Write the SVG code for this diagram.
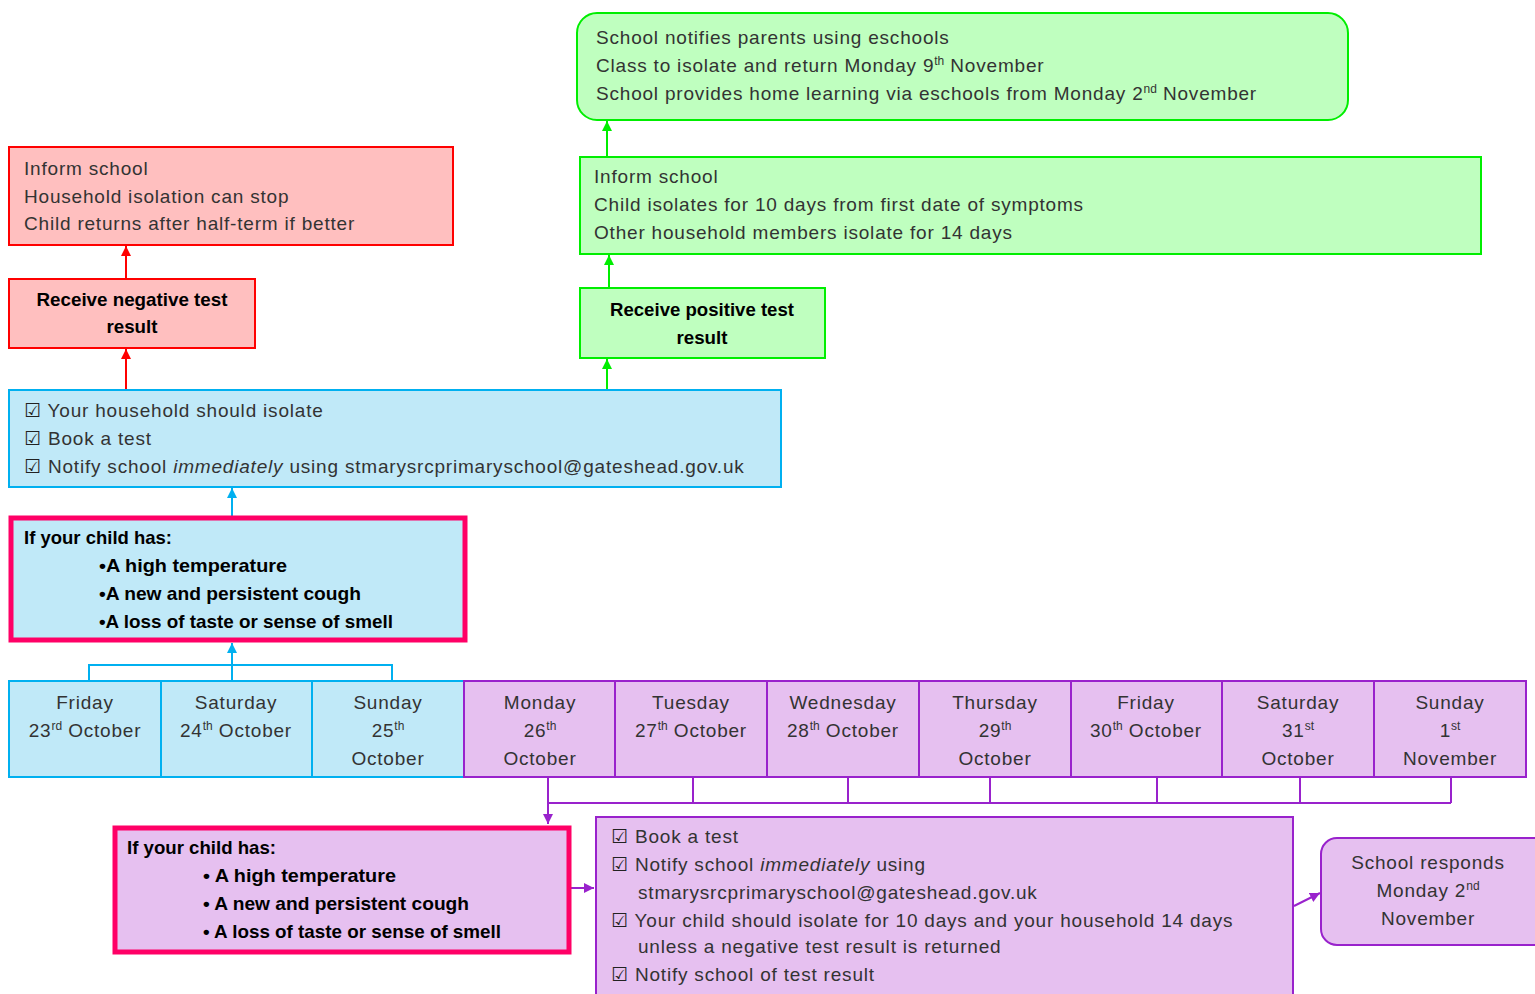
<svg xmlns="http://www.w3.org/2000/svg" width="1535" height="994" viewBox="0 0 1535 994">
<defs>
<style>
text{font-family:"Liberation Sans",Arial,sans-serif;font-size:19px;fill:#333;letter-spacing:0.8px}
.b{font-weight:bold;fill:#000;font-size:19px;letter-spacing:0}
.c{text-anchor:middle}
.sup{font-size:12px;letter-spacing:0}
.ck{font-family:"DejaVu Sans",sans-serif;font-size:19px;fill:#222}
.red{fill:#ffbfbf;stroke:#ff0000;stroke-width:2}
.grn{fill:#bfffbf;stroke:#00ee00;stroke-width:2}
.blu{fill:#c0e9f8;stroke:#00b0f0;stroke-width:2}
.pur{fill:#e6c0f0;stroke:#9922cc;stroke-width:2}
.sym{stroke:#ff0066;stroke-width:5}
.ln{fill:none;stroke-width:2}
</style>
<marker id="ar" viewBox="0 0 10 10" refX="10" refY="5" markerWidth="11" markerHeight="10" orient="auto" markerUnits="userSpaceOnUse"><path d="M0,0L10,5L0,10z" fill="#ff0000"/></marker>
<marker id="ag" viewBox="0 0 10 10" refX="10" refY="5" markerWidth="11" markerHeight="10" orient="auto" markerUnits="userSpaceOnUse"><path d="M0,0L10,5L0,10z" fill="#00ee00"/></marker>
<marker id="ab" viewBox="0 0 10 10" refX="10" refY="5" markerWidth="11" markerHeight="10" orient="auto" markerUnits="userSpaceOnUse"><path d="M0,0L10,5L0,10z" fill="#00b0f0"/></marker>
<marker id="ap" viewBox="0 0 10 10" refX="10" refY="5" markerWidth="11" markerHeight="10" orient="auto" markerUnits="userSpaceOnUse"><path d="M0,0L10,5L0,10z" fill="#9922cc"/></marker>
</defs>
<rect width="1535" height="994" fill="#fff"/>

<g id="connectors">
<path class="ln" stroke="#ff0000" d="M126,390V349" marker-end="url(#ar)"/>
<path class="ln" stroke="#ff0000" d="M126,279V246" marker-end="url(#ar)"/>
<path class="ln" stroke="#00ee00" d="M607,390V359" marker-end="url(#ag)"/>
<path class="ln" stroke="#00ee00" d="M609,288V255" marker-end="url(#ag)"/>
<path class="ln" stroke="#00ee00" d="M607,157V121" marker-end="url(#ag)"/>
<path class="ln" stroke="#00b0f0" d="M232,516V488" marker-end="url(#ab)"/>
<path class="ln" stroke="#00b0f0" d="M89,681V665H392V681"/>
<path class="ln" stroke="#00b0f0" d="M232,681V643" marker-end="url(#ab)"/>
<path class="ln" stroke="#9922cc" d="M548,777V824" marker-end="url(#ap)"/>
<path class="ln" stroke="#9922cc" d="M548,803H1451M693,777V803M848,777V803M990,777V803M1157,777V803M1300,777V803M1451,777V803"/>
<path class="ln" stroke="#9922cc" d="M571,888H594" marker-end="url(#ap)"/>
<path class="ln" stroke="#9922cc" d="M1294,906L1320,893" marker-end="url(#ap)"/>
</g>

<g id="school-notifies">
<rect class="grn" x="577" y="13" width="771" height="107" rx="20"/>
<text x="596" y="44">School notifies parents using eschools</text>
<text x="596" y="72">Class to isolate and return Monday 9<tspan class="sup" dy="-7">th</tspan><tspan dy="7"> November</tspan></text>
<text x="596" y="100">School provides home learning via eschools from Monday 2<tspan class="sup" dy="-7">nd</tspan><tspan dy="7"> November</tspan></text>
</g>

<g id="positive-actions">
<rect class="grn" x="580" y="157" width="901" height="97"/>
<text x="594" y="183">Inform school</text>
<text x="594" y="211">Child isolates for 10 days from first date of symptoms</text>
<text x="594" y="239">Other household members isolate for 14 days</text>
</g>

<g id="positive-result">
<rect class="grn" x="580" y="288" width="245" height="70"/>
<text class="b c" x="702" y="316" textLength="184" lengthAdjust="spacingAndGlyphs">Receive positive test</text>
<text class="b c" x="702" y="344" textLength="51" lengthAdjust="spacingAndGlyphs">result</text>
</g>

<g id="negative-actions">
<rect class="red" x="9" y="147" width="444" height="98"/>
<text x="24" y="175">Inform school</text>
<text x="24" y="203">Household isolation can stop</text>
<text x="24" y="230">Child returns after half-term if better</text>
</g>

<g id="negative-result">
<rect class="red" x="9" y="279" width="246" height="69"/>
<text class="b c" x="132" y="306" textLength="191" lengthAdjust="spacingAndGlyphs">Receive negative test</text>
<text class="b c" x="132" y="333" textLength="51" lengthAdjust="spacingAndGlyphs">result</text>
</g>

<g id="weekend-actions">
<rect class="blu" x="9" y="390" width="772" height="97"/>
<text x="24" y="417"><tspan class="ck">☑</tspan> Your household should isolate</text>
<text x="24" y="445"><tspan class="ck">☑</tspan> Book a test</text>
<text x="24" y="473"><tspan class="ck">☑</tspan> Notify school <tspan font-style="italic">immediately</tspan> using stmarysrcprimaryschool@gateshead.gov.uk</text>
</g>

<g id="weekend-symptoms">
<rect class="blu sym" x="11" y="518" width="454" height="122"/>
<text class="b" x="24" y="544" textLength="148" lengthAdjust="spacingAndGlyphs">If your child has:</text>
<text class="b" x="99" y="572" textLength="188" lengthAdjust="spacingAndGlyphs">•A high temperature</text>
<text class="b" x="99" y="600" textLength="262" lengthAdjust="spacingAndGlyphs">•A new and persistent cough</text>
<text class="b" x="99" y="628" textLength="294" lengthAdjust="spacingAndGlyphs">•A loss of taste or sense of smell</text>
</g>

<g id="day-fri23">
<rect class="blu" x="9" y="681" width="152" height="96"/>
<text class="c" x="85" y="709">Friday</text>
<text class="c" x="85" y="737">23<tspan class="sup" dy="-7">rd</tspan><tspan dy="7"> October</tspan></text>
</g>
<g id="day-sat24">
<rect class="blu" x="161" y="681" width="151" height="96"/>
<text class="c" x="236" y="709">Saturday</text>
<text class="c" x="236" y="737">24<tspan class="sup" dy="-7">th</tspan><tspan dy="7">  October</tspan></text>
</g>
<g id="day-sun25">
<rect class="blu" x="312" y="681" width="152" height="96"/>
<text class="c" x="388" y="709">Sunday</text>
<text class="c" x="388" y="737">25<tspan class="sup" dy="-7">th</tspan></text>
<text class="c" x="388" y="765">October</text>
</g>
<g id="day-mon26">
<rect class="pur" x="464" y="681" width="151" height="96"/>
<text class="c" x="540" y="709">Monday</text>
<text class="c" x="540" y="737">26<tspan class="sup" dy="-7">th</tspan></text>
<text class="c" x="540" y="765">October</text>
</g>
<g id="day-tue27">
<rect class="pur" x="615" y="681" width="152" height="96"/>
<text class="c" x="691" y="709">Tuesday</text>
<text class="c" x="691" y="737">27<tspan class="sup" dy="-7">th</tspan><tspan dy="7"> October</tspan></text>
</g>
<g id="day-wed28">
<rect class="pur" x="767" y="681" width="152" height="96"/>
<text class="c" x="843" y="709">Wednesday</text>
<text class="c" x="843" y="737">28<tspan class="sup" dy="-7">th</tspan><tspan dy="7"> October</tspan></text>
</g>
<g id="day-thu29">
<rect class="pur" x="919" y="681" width="152" height="96"/>
<text class="c" x="995" y="709">Thursday</text>
<text class="c" x="995" y="737">29<tspan class="sup" dy="-7">th</tspan></text>
<text class="c" x="995" y="765">October</text>
</g>
<g id="day-fri30">
<rect class="pur" x="1071" y="681" width="151" height="96"/>
<text class="c" x="1146" y="709">Friday</text>
<text class="c" x="1146" y="737">30<tspan class="sup" dy="-7">th</tspan><tspan dy="7"> October</tspan></text>
</g>
<g id="day-sat31">
<rect class="pur" x="1222" y="681" width="152" height="96"/>
<text class="c" x="1298" y="709">Saturday</text>
<text class="c" x="1298" y="737">31<tspan class="sup" dy="-7">st</tspan></text>
<text class="c" x="1298" y="765">October</text>
</g>
<g id="day-sun1">
<rect class="pur" x="1374" y="681" width="152" height="96"/>
<text class="c" x="1450" y="709">Sunday</text>
<text class="c" x="1450" y="737">1<tspan class="sup" dy="-7">st</tspan></text>
<text class="c" x="1450" y="765">November</text>
</g>

<g id="weekday-symptoms">
<rect class="pur sym" x="115" y="828" width="454" height="124"/>
<text class="b" x="127" y="854" textLength="149" lengthAdjust="spacingAndGlyphs">If your child has:</text>
<text class="b" x="203" y="882" textLength="193" lengthAdjust="spacingAndGlyphs">• A high temperature</text>
<text class="b" x="203" y="910" textLength="266" lengthAdjust="spacingAndGlyphs">• A new and persistent cough</text>
<text class="b" x="203" y="938" textLength="298" lengthAdjust="spacingAndGlyphs">• A loss of taste or sense of smell</text>
</g>

<g id="weekday-actions">
<rect class="pur" x="596" y="817" width="697" height="190"/>
<text x="611" y="843"><tspan class="ck">☑</tspan> Book a test</text>
<text x="611" y="871"><tspan class="ck">☑</tspan> Notify school <tspan font-style="italic">immediately</tspan> using</text>
<text x="638" y="899">stmarysrcprimaryschool@gateshead.gov.uk</text>
<text x="611" y="927"><tspan class="ck">☑</tspan> Your child should isolate for 10 days and your household 14 days</text>
<text x="638" y="953">unless a negative test result is returned</text>
<text x="611" y="981"><tspan class="ck">☑</tspan> Notify school of test result</text>
</g>

<g id="school-responds">
<rect class="pur" x="1321" y="838" width="230" height="107" rx="16"/>
<text class="c" x="1428" y="869">School responds</text>
<text class="c" x="1428" y="897">Monday 2<tspan class="sup" dy="-7">nd</tspan></text>
<text class="c" x="1428" y="925">November</text>
</g>
</svg>
